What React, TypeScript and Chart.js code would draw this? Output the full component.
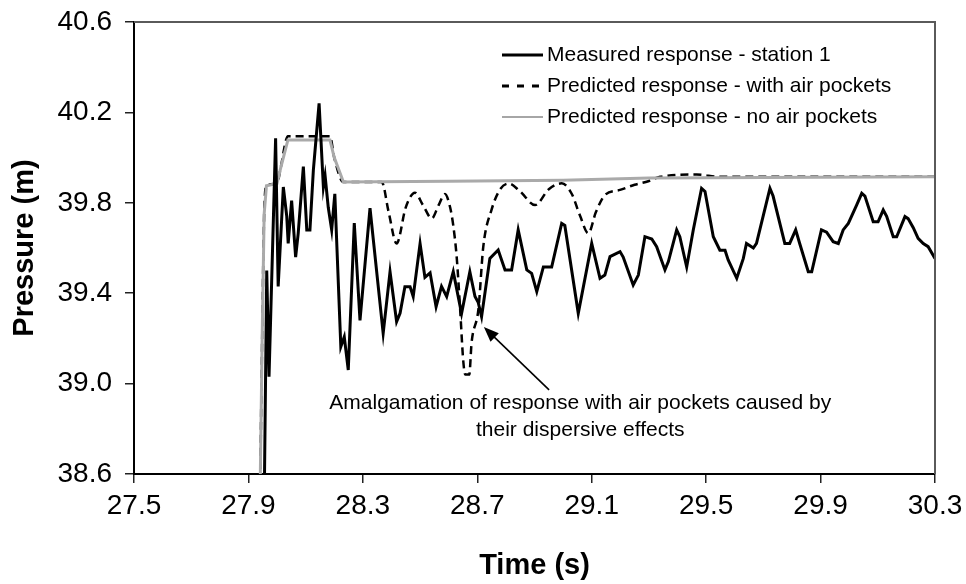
import React, { useEffect, useRef } from 'react';
import { Chart, registerables } from 'chart.js';

Chart.register(...registerables);

const FONT = "'Liberation Sans', Arial, Helvetica, sans-serif";

const xTicks = [27.5, 27.9, 28.3, 28.7, 29.1, 29.5, 29.9, 30.3];
const yTicks = [38.6, 39.0, 39.4, 39.8, 40.2, 40.6];

const legendLabels = [
  'Measured response - station 1',
  'Predicted response - with air pockets',
  'Predicted response - no air pockets',
];

const annotationLines = [
  'Amalgamation of response with air pockets caused by',
  'their dispersive effects',
];
// annotation anchor (time, pressure) and arrow (tail -> tip) in data units
const annotationAt = [29.06, 38.914];
const annotationLineStep = 0.119;
const arrowTail = [28.951, 38.972];
const arrowTip = [28.723, 39.25];

const measuredT = [
  27.94, 27.955, 27.964, 27.972, 27.995, 28.004, 28.022, 28.034, 28.039, 28.051,
  28.065, 28.074, 28.092, 28.104, 28.115, 28.127, 28.147, 28.162, 28.168, 28.179,
  28.191, 28.202, 28.223, 28.235, 28.249, 28.27, 28.29, 28.325, 28.371, 28.395,
  28.418, 28.43, 28.447, 28.465, 28.476, 28.5, 28.517, 28.535, 28.556, 28.575,
  28.593, 28.616, 28.645, 28.674, 28.692, 28.703, 28.715, 28.744, 28.773, 28.797,
  28.82, 28.843, 28.873, 28.89, 28.908, 28.931, 28.96, 28.995, 29.006, 29.053,
  29.1, 29.129, 29.146, 29.164, 29.199, 29.21, 29.245, 29.263, 29.286, 29.31,
  29.327, 29.356, 29.368, 29.397, 29.408, 29.432, 29.455, 29.484, 29.496, 29.525,
  29.548, 29.566, 29.577, 29.607, 29.63, 29.641, 29.665, 29.676, 29.723, 29.734,
  29.775, 29.792, 29.813, 29.827, 29.857, 29.869, 29.903, 29.921, 29.944, 29.962,
  29.979, 29.997, 30.026, 30.044, 30.055, 30.084, 30.101, 30.119, 30.131, 30.154,
  30.166, 30.195, 30.206, 30.224, 30.241, 30.259, 30.276, 30.3,
];
const measuredP = [
  38.45, 38.45, 39.5, 39.03, 40.085, 39.43, 39.87, 39.74, 39.62, 39.81,
  39.56, 39.665, 39.96, 39.68, 39.68, 39.945, 40.24, 39.87, 39.92, 39.78,
  39.68, 39.84, 39.163, 39.207, 39.06, 39.71, 39.28, 39.776, 39.222, 39.495,
  39.274, 39.311, 39.429, 39.429, 39.385, 39.62, 39.47, 39.49, 39.34, 39.43,
  39.385, 39.495, 39.31, 39.495, 39.385, 39.36, 39.296, 39.554, 39.591, 39.503,
  39.503, 39.68, 39.503, 39.488, 39.407, 39.516, 39.516, 39.709, 39.7, 39.311,
  39.62, 39.466, 39.48, 39.562, 39.584, 39.56, 39.436, 39.48, 39.65, 39.64,
  39.606, 39.503, 39.54, 39.68, 39.65, 39.516, 39.68, 39.864, 39.85, 39.65,
  39.59, 39.59, 39.547, 39.466, 39.554, 39.62, 39.6, 39.62, 39.864, 39.83,
  39.62, 39.62, 39.68, 39.62, 39.495, 39.495, 39.68, 39.67, 39.628, 39.62,
  39.68, 39.709, 39.79, 39.842, 39.83, 39.716, 39.716, 39.768, 39.74, 39.65,
  39.65, 39.739, 39.73, 39.69, 39.643, 39.62, 39.606, 39.554,
];

const withAirT = [
  27.94, 27.948, 27.955, 27.963, 28.0, 28.012, 28.038, 28.185, 28.2, 28.232,
  28.366, 28.39, 28.418, 28.45, 28.482, 28.51, 28.541, 28.565, 28.587, 28.605,
  28.616, 28.628, 28.64, 28.651, 28.658, 28.672, 28.68, 28.704, 28.721, 28.75,
  28.78, 28.81, 28.85, 28.902, 28.95, 28.995, 29.03, 29.06, 29.088, 29.115,
  29.146, 29.199, 29.25, 29.292, 29.339, 29.467, 29.55, 30.3,
];
const withAirP = [
  38.45, 39.2, 39.75, 39.875, 39.885, 39.95, 40.095, 40.095, 40.0, 39.892,
  39.892, 39.76, 39.62, 39.78, 39.845, 39.79, 39.731, 39.79, 39.839, 39.78,
  39.7, 39.56, 39.33, 39.1, 39.04, 39.04, 39.18, 39.33, 39.606, 39.77,
  39.86, 39.885, 39.85, 39.79, 39.86, 39.886, 39.84, 39.74, 39.665, 39.76,
  39.834, 39.857, 39.88, 39.893, 39.915, 39.925, 39.915, 39.915,
];

const noAirT = [
  27.94, 27.948, 27.955, 27.963, 28.0, 28.012, 28.038, 28.185, 28.2, 28.232,
  28.6, 29.0, 29.3, 30.3,
];
const noAirP = [
  38.45, 39.2, 39.75, 39.875, 39.885, 39.95, 40.078, 40.078, 40.0, 39.892,
  39.895, 39.9, 39.91, 39.915,
];

const toPoints = (t: number[], p: number[]) => t.map((v, i) => ({ x: v, y: p[i] }));

const overlayPlugin = {
  id: 'overlay',
  afterDatasetsDraw(chart: any) {
    const { ctx, chartArea: a, scales } = chart;
    const xs = scales.x;
    const ys = scales.y;
    ctx.save();
    // top / right frame
    ctx.strokeStyle = '#5a5a5a';
    ctx.lineWidth = 2;
    ctx.beginPath();
    ctx.moveTo(a.left, a.top);
    ctx.lineTo(a.right, a.top);
    ctx.lineTo(a.right, a.bottom);
    ctx.stroke();

    // legend
    const lx0 = a.left + 368;
    const lx1 = a.left + 409;
    const ty = a.top + 33;
    ctx.font = `21px ${FONT}`;
    ctx.textBaseline = 'middle';
    ctx.textAlign = 'left';
    ctx.fillStyle = '#000';
    const styles = [
      { color: '#000', width: 3, dash: [] as number[] },
      { color: '#000', width: 3, dash: [7, 8] },
      { color: '#a6a6a6', width: 2, dash: [] as number[] },
    ];
    legendLabels.forEach((lab, i) => {
      const yy = ty + i * 31;
      const s = styles[i];
      ctx.beginPath();
      ctx.setLineDash(s.dash);
      ctx.strokeStyle = s.color;
      ctx.lineWidth = s.width;
      ctx.moveTo(lx0, yy);
      ctx.lineTo(lx1, yy);
      ctx.stroke();
      ctx.setLineDash([]);
      ctx.fillText(lab, lx1 + 4, yy);
    });

    // annotation text
    ctx.textAlign = 'center';
    const cx = xs.getPixelForValue(annotationAt[0]);
    annotationLines.forEach((line, i) => {
      ctx.fillText(line, cx, ys.getPixelForValue(annotationAt[1] - i * annotationLineStep));
    });

    // arrow
    const x1 = xs.getPixelForValue(arrowTail[0]);
    const y1 = ys.getPixelForValue(arrowTail[1]);
    const x2 = xs.getPixelForValue(arrowTip[0]);
    const y2 = ys.getPixelForValue(arrowTip[1]);
    const ang = Math.atan2(y2 - y1, x2 - x1);
    const hl = 15;
    const hw = 6;
    ctx.strokeStyle = '#000';
    ctx.lineWidth = 1.6;
    ctx.beginPath();
    ctx.moveTo(x1, y1);
    ctx.lineTo(x2 - Math.cos(ang) * hl * 0.8, y2 - Math.sin(ang) * hl * 0.8);
    ctx.stroke();
    ctx.beginPath();
    ctx.moveTo(x2, y2);
    ctx.lineTo(
      x2 - Math.cos(ang) * hl + Math.sin(ang) * hw,
      y2 - Math.sin(ang) * hl - Math.cos(ang) * hw,
    );
    ctx.lineTo(
      x2 - Math.cos(ang) * hl - Math.sin(ang) * hw,
      y2 - Math.sin(ang) * hl + Math.cos(ang) * hw,
    );
    ctx.closePath();
    ctx.fillStyle = '#000';
    ctx.fill();
    ctx.restore();
  },
};

export default function App() {
  const canvasRef = useRef<HTMLCanvasElement | null>(null);

  useEffect(() => {
    const canvas = canvasRef.current;
    if (!canvas) return;
    const tickFont = { family: FONT, size: 28 };
    const titleFont = { family: FONT, size: 29, weight: 'bold' as const };
    const chart = new Chart(canvas, {
      type: 'line',
      data: {
        datasets: [
          {
            label: legendLabels[0],
            data: toPoints(measuredT, measuredP),
            borderColor: '#000',
            borderWidth: 3,
            pointRadius: 0,
            tension: 0,
            order: 0,
          },
          {
            label: legendLabels[2],
            data: toPoints(noAirT, noAirP),
            borderColor: '#aaaaaa',
            borderWidth: 3,
            pointRadius: 0,
            tension: 0,
            order: 1,
          },
          {
            label: legendLabels[1],
            data: toPoints(withAirT, withAirP),
            borderColor: '#000',
            borderWidth: 2.5,
            borderDash: [8, 5],
            pointRadius: 0,
            cubicInterpolationMode: 'monotone',
            order: 2,
          },
        ],
      },
      options: {
        animation: false,
        responsive: false,
        devicePixelRatio: 1,
        events: [],
        layout: { padding: { top: 22, right: 31, left: 0, bottom: 0 } },
        plugins: { legend: { display: false }, tooltip: { enabled: false } },
        scales: {
          x: {
            type: 'linear',
            min: 27.5,
            max: 30.3,
            afterBuildTicks: (s: any) => {
              s.ticks = xTicks.map((v) => ({ value: v }));
            },
            afterFit: (s: any) => {
              s.height = 110;
              s.paddingLeft = 0;
              s.paddingRight = 0;
            },
            ticks: {
              callback: (v: any) => Number(v).toFixed(1),
              font: tickFont,
              color: '#000',
              padding: 6,
              maxRotation: 0,
              autoSkip: false,
            },
            grid: {
              display: true,
              drawOnChartArea: false,
              drawTicks: true,
              tickLength: 9,
              tickColor: '#222',
              lineWidth: 1.5,
            },
            border: { display: true, color: '#000', width: 2 },
            title: {
              display: true,
              text: 'Time (s)',
              font: titleFont,
              color: '#000',
              padding: { top: 0, bottom: 1 },
            },
          },
          y: {
            type: 'linear',
            min: 38.6,
            max: 40.6,
            afterBuildTicks: (s: any) => {
              s.ticks = yTicks.map((v) => ({ value: v }));
            },
            afterFit: (s: any) => {
              s.width = 134;
              s.paddingTop = 0;
              s.paddingBottom = 0;
            },
            ticks: {
              callback: (v: any) => Number(v).toFixed(1),
              font: tickFont,
              color: '#000',
              padding: 13,
              autoSkip: false,
            },
            grid: {
              display: true,
              drawOnChartArea: false,
              drawTicks: true,
              tickLength: 9,
              tickColor: '#222',
              lineWidth: 1.5,
            },
            border: { display: true, color: '#000', width: 2 },
            title: {
              display: true,
              text: 'Pressure (m)',
              font: titleFont,
              color: '#000',
              padding: { top: 8, bottom: 0 },
            },
          },
        },
      },
      plugins: [overlayPlugin],
    } as any);
    return () => chart.destroy();
  }, []);

  return (
    <div style={{ position: 'fixed', left: 0, top: 0, width: 966, height: 584, background: '#fff' }}>
      <canvas ref={canvasRef} width={966} height={584} style={{ width: 966, height: 584, display: 'block' }} />
    </div>
  );
}
